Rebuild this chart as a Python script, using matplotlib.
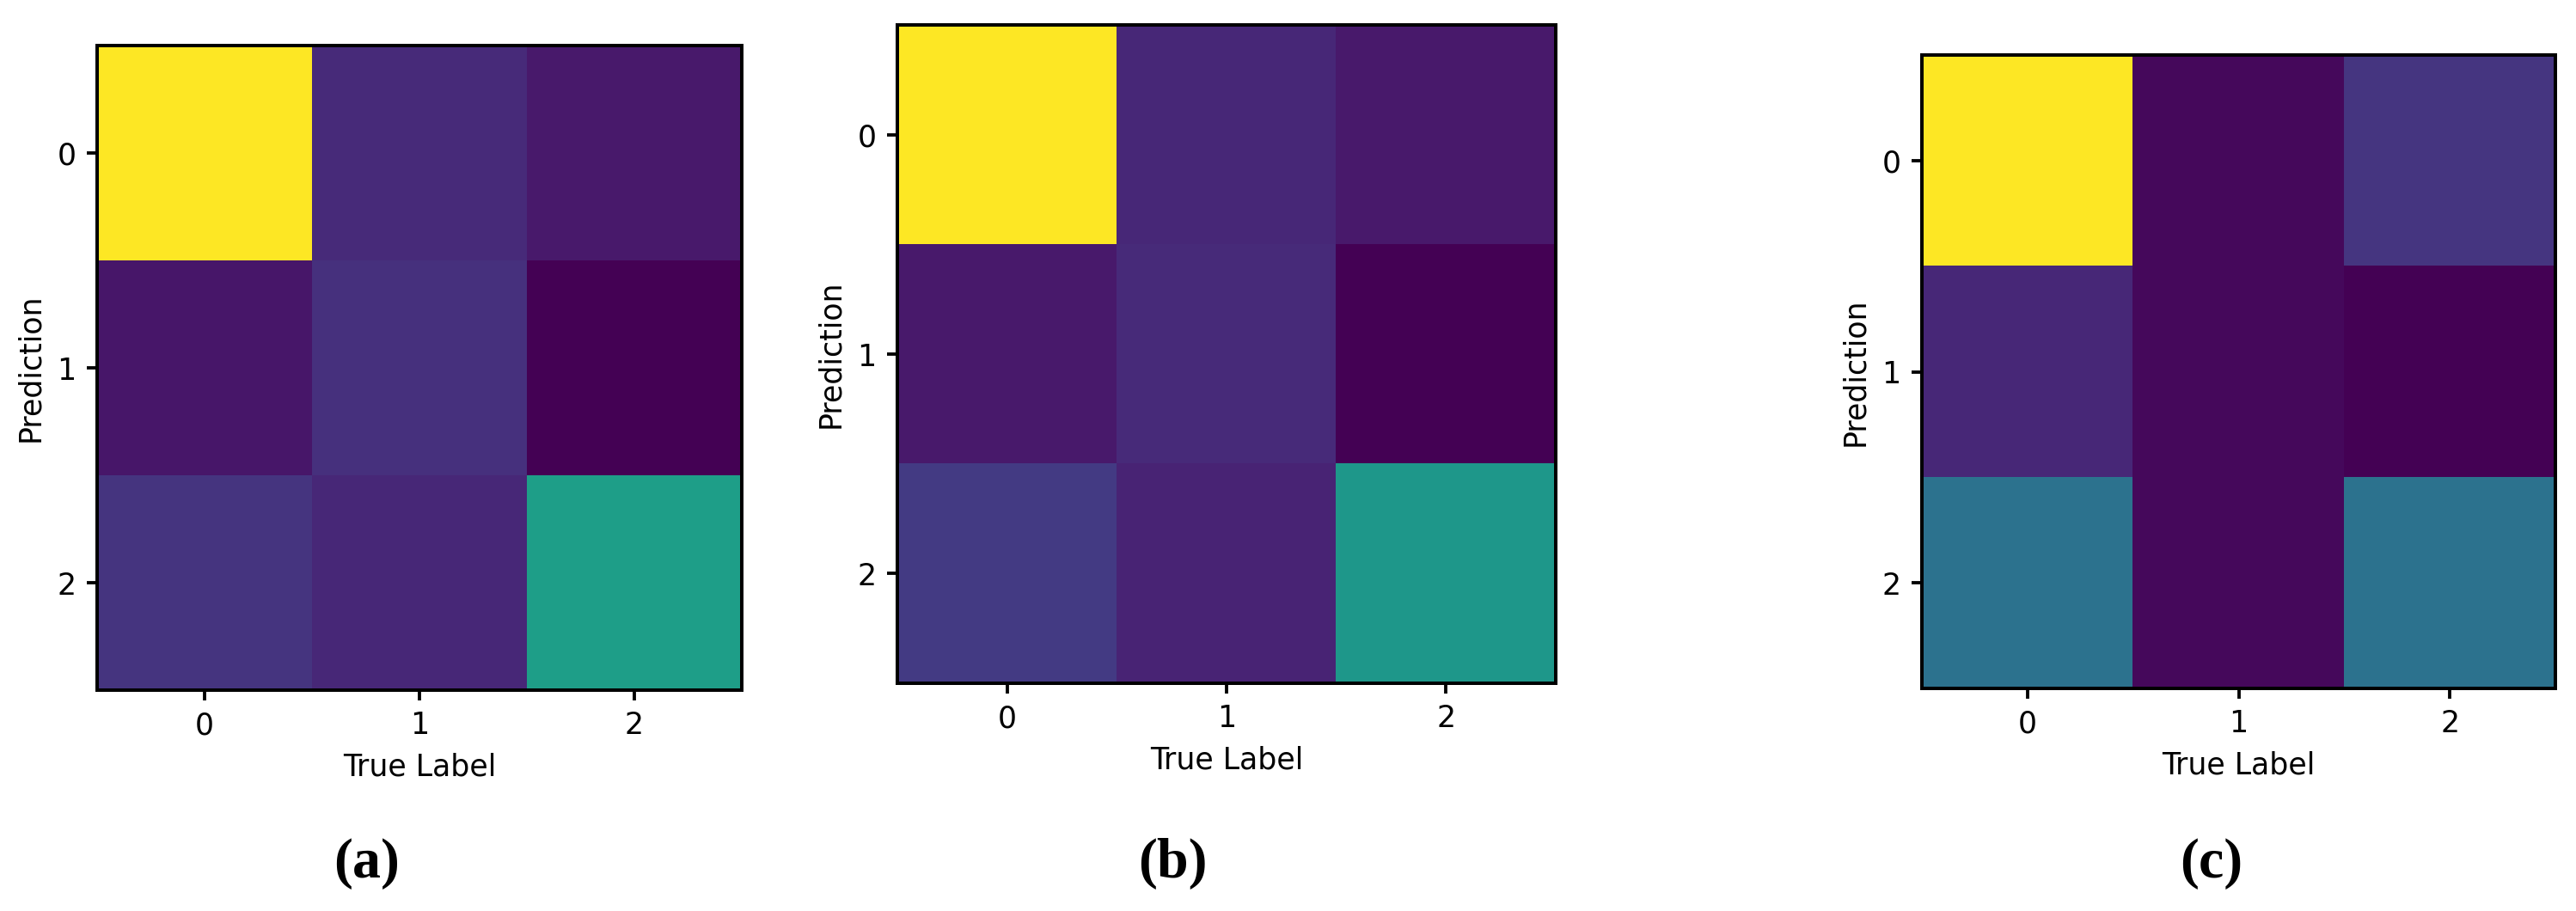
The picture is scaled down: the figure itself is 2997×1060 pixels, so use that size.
import numpy as np
import matplotlib
matplotlib.use("Agg")
import matplotlib.pyplot as plt

# confusion matrices (rows = prediction, cols = true label)
cm_a = [[100, 12, 7],
        [6, 14, 0],
        [15, 11, 56]]
cm_b = [[100, 11, 7],
        [7, 12, 0],
        [17, 10, 53]]
cm_c = [[45, 1, 7],
        [5, 1, 0],
        [17, 1, 17]]
panel_labels = ["(a)", "(b)", "(c)"]
class_ticks = [0, 1, 2]

DPI = 250
fig = plt.figure(figsize=(2997 / DPI, 1060 / DPI), dpi=DPI)

# axes boxes in figure fraction [left, bottom, width, height]
boxes = [
    [113 / 2997, 1 - 803 / 1060, 750 / 2997, 750 / 1060],
    [1044 / 2997, 1 - 795 / 1060, 766 / 2997, 766 / 1060],
    [2236 / 2997, 1 - 801 / 1060, 737 / 2997, 737 / 1060],
]
label_x = [427 / 2997, 1364 / 2997, 2573 / 2997]

for cm, box, lab, lx in zip([cm_a, cm_b, cm_c], boxes, panel_labels, label_x):
    ax = fig.add_axes(box)
    ax.imshow(np.array(cm), cmap="viridis", interpolation="nearest")
    ax.set_xticks(class_ticks)
    ax.set_yticks(class_ticks)
    ax.set_xlabel("True Label", fontsize=10)
    ax.set_ylabel("Prediction", fontsize=10)
    ax.tick_params(labelsize=10, width=1.1, length=3.5)
    for s in ax.spines.values():
        s.set_linewidth(1.15)
    fig.text(lx, 1 - 1005 / 1060, lab, ha="center", va="center",
             fontsize=19, fontweight="bold", family="Liberation Serif")

fig.savefig("out.png", dpi=DPI)
